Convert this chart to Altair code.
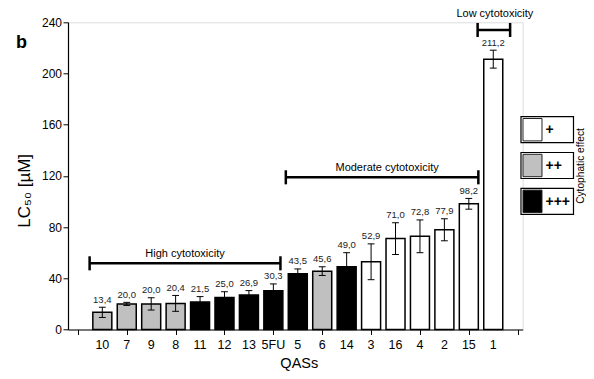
import altair as alt
import pandas as pd

# ---------------- data ----------------
categories = ["10", "7", "9", "8", "11", "12", "13", "5FU", "5", "6", "14",
              "3", "16", "4", "2", "15", "1"]
lc50 = [13.4, 20.0, 20.0, 20.4, 21.5, 25.0, 26.9, 30.3, 43.5, 45.6, 49.0,
        52.9, 71.0, 72.8, 77.9, 98.2, 211.2]
errors = [4.0, 1.2, 4.8, 6.2, 4.2, 4.5, 3.5, 5.3, 3.8, 3.4, 11.0,
          14.0, 12.4, 12.8, 8.6, 4.2, 7.0]
effect = ["++", "++", "++", "++", "+++", "+++", "+++", "+++", "+++", "++", "+++",
          "+", "+", "+", "+", "+", "+"]

bracket_labels = ["High cytotoxicity", "Moderate cytotoxicity", "Low cytotoxicity"]
bracket_start = [0.48, 8.51, 16.36]
bracket_end = [8.29, 16.39, 17.69]
bracket_level = [51.7, 118.9, 234.0]

legend_labels = ["+", "++", "+++"]
legend_colors = ["white", "#c0c0c0", "black"]

# ---------------- layout / style ----------------
FONT = "Liberation Sans"
W, H = 454.7, 307.2
bracket_dy = [-9.5, -9.5, -15.5]
bracket_dx = [0, 5, 1]

df = pd.DataFrame({
    "cat": categories,
    "pos": list(range(1, len(categories) + 1)),
    "lc50": lc50,
    "err": errors,
    "effect": effect,
})
df["lo"] = df["lc50"] - df["err"]
df["hi"] = df["lc50"] + df["err"]
df["label"] = [f"{v:.1f}".replace(".", ",") for v in lc50]

dfb = pd.DataFrame({
    "label": bracket_labels,
    "start": bracket_start,
    "end": bracket_end,
    "level": bracket_level,
})

xscale = alt.Scale(domain=[-0.2, 18], nice=False, zero=False)
yscale = alt.Scale(domain=[0, 240], nice=False)

xaxis = alt.Axis(
    values=list(range(0, 19)), labels=False, title="QASs",
    grid=False, domainColor="black", domainWidth=1.2, tickColor="black", tickSize=5,
    titleFont=FONT, titleFontSize=14.5, titleFontWeight="normal", titleColor="black",
    titleX=230.8, titleY=38.3, titleBaseline="alphabetic", titleAlign="center",
)
yaxis = alt.Axis(
    values=list(range(0, 241, 20)),
    labelExpr="datum.value % 40 === 0 ? datum.label : ''",
    title="LC₅₀ [µM]", grid=False, domainColor="black", domainWidth=1.2,
    tickColor="black",
    tickSize={"condition": {"test": "datum.value % 40 === 0", "value": 5}, "value": 2.5},
    labelFont=FONT, labelFontSize=12, labelColor="black", labelPadding=1.5,
    labelOverlap=False,
    titleFont=FONT, titleFontSize=17, titleFontWeight="normal", titleColor="black",
    titleX=-38.7, titleY=168, titleBaseline="alphabetic", titleAlign="center",
    titleAngle=270,
)

base = alt.Chart(df)

bars = base.mark_bar(size=19, stroke="black", strokeWidth=1.5).encode(
    x=alt.X("pos:Q", scale=xscale, axis=xaxis),
    y=alt.Y("lc50:Q", scale=yscale, axis=yaxis),
    fill=alt.Fill("effect:N",
                  scale=alt.Scale(domain=legend_labels, range=legend_colors),
                  legend=None),
)

# category tick labels under the x axis
cat_labels = base.mark_text(font=FONT, fontSize=12.5, baseline="middle",
                            align="center", color="black").encode(
    x="pos:Q", y=alt.value(H + 15.8), text="cat:N")

err_line = base.mark_rule(color="black", strokeWidth=1).encode(
    x="pos:Q", y="lo:Q", y2="hi:Q")
caps = base.transform_calculate(
    xl="datum.pos - 0.14", xr="datum.pos + 0.14")
cap_hi = caps.mark_rule(color="black", strokeWidth=1).encode(
    x="xl:Q", x2="xr:Q", y="hi:Q")
cap_lo = caps.mark_rule(color="black", strokeWidth=1).encode(
    x="xl:Q", x2="xr:Q", y="lo:Q")

values_txt = base.mark_text(baseline="bottom", dy=-2.5, font=FONT,
                            fontSize=9.5, color="#222").encode(
    x="pos:Q", y="hi:Q", text="label:N")

bbase = alt.Chart(dfb)
b_line = bbase.mark_rule(color="black", strokeWidth=2.5).encode(
    x="start:Q", x2="end:Q", y="level:Q")
bcap = bbase.transform_calculate(ylo="datum.level - 5.5", yhi="datum.level + 5.5")
b_cap_l = bcap.mark_rule(color="black", strokeWidth=2.5).encode(
    x="start:Q", y="ylo:Q", y2="yhi:Q")
b_cap_r = bcap.mark_rule(color="black", strokeWidth=2.5).encode(
    x="end:Q", y="ylo:Q", y2="yhi:Q")

b_texts = []
for i in range(len(bracket_labels)):
    b_texts.append(
        alt.Chart(dfb.iloc[[i]])
        .transform_calculate(mid="(datum.start + datum.end) / 2")
        .mark_text(font=FONT, fontSize=11, baseline="middle", align="center",
                   dy=bracket_dy[i], dx=bracket_dx[i], color="black")
        .encode(x="mid:Q", y="level:Q", text="label:N")
    )

# custom legend, drawn beside the plot area
one = pd.DataFrame({"k": [0]})
leg_layers = []
box_x0, box_x1 = 453.0, 505.5
box_top0, box_step, box_h = 94.4, 35.8, 26.0
for i, (lab, col) in enumerate(zip(legend_labels, legend_colors)):
    top = box_top0 + i * box_step
    leg_layers.append(
        alt.Chart(one).mark_rect(fill="white", stroke="black", strokeWidth=1.2).encode(
            x=alt.value(box_x0), x2=alt.value(box_x1),
            y=alt.value(top), y2=alt.value(top + box_h)))
    leg_layers.append(
        alt.Chart(one).mark_rect(fill=col, stroke="#222", strokeWidth=1).encode(
            x=alt.value(box_x0 + 2), x2=alt.value(box_x0 + 21),
            y=alt.value(top + 1.8), y2=alt.value(top + box_h - 1.8)))
    leg_layers.append(
        alt.Chart(pd.DataFrame({"t": [lab]})).mark_text(
            font=FONT, fontSize=14, fontWeight="bold", align="left",
            baseline="middle", color="black").encode(
            x=alt.value(box_x0 + 24.5), y=alt.value(top + box_h / 2 + 0.5),
            text="t:N"))

leg_title = alt.Chart(pd.DataFrame({"t": ["Cytophatic effect"]})).mark_text(
    font=FONT, fontSize=10.2, angle=270, align="center", baseline="middle",
    color="black").encode(x=alt.value(512.6), y=alt.value(143.7), text="t:N")

panel_label = alt.Chart(pd.DataFrame({"t": ["b"]})).mark_text(
    font=FONT, fontSize=18, fontWeight="bold", align="left",
    baseline="alphabetic", color="black").encode(
    x=alt.value(-52), y=alt.value(25.4), text="t:N")

chart = alt.layer(
    bars, cat_labels, err_line, cap_hi, cap_lo, values_txt,
    b_line, b_cap_l, b_cap_r, *b_texts,
    *leg_layers, leg_title, panel_label,
).properties(
    width=W, height=H,
    autosize=alt.AutoSizeParams(type="none"),
    padding={"left": 60, "top": 14.3, "right": 63.2, "bottom": 41.4},
).configure_view(stroke=None).configure(background="white")

chart.save("out.html", embed_options={"renderer": "svg", "actions": False})
